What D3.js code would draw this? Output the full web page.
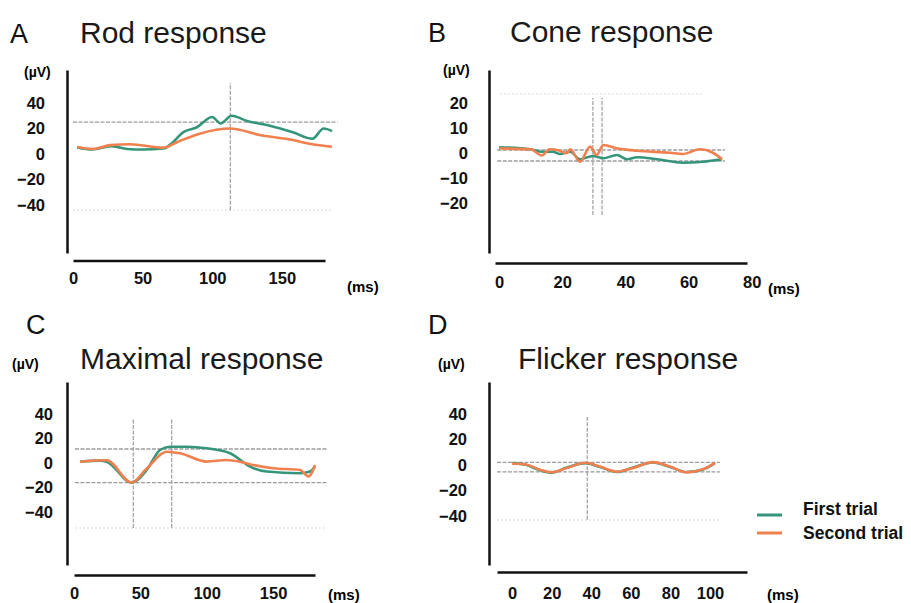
<!DOCTYPE html>
<html>
<head>
	<title> ERG responses </title>
	<script src="https://d3js.org/d3.v7.min.js"></script>
	<style>
		body { margin: 0; background: #fff; }
		text { font-family: "Liberation Sans", Arial, sans-serif; }
	</style>
</head>
<body>
	<svg width="911" height="603"></svg>
	<script type="text/javascript">
		// ---- data ----
		// A: rod response
		let rodTimeFirst = [3, 14, 27, 39, 50, 65, 72, 79, 89, 100, 106, 114, 125, 140, 158, 172, 180, 186];
		let rodFirst = [5.2, 3.6, 6.2, 4, 3.6, 4.4, 9.5, 17, 21, 29, 24, 30, 26, 22.5, 17, 12, 20, 18];
		let rodTimeSecond = [3, 14, 27, 41, 65, 75, 91, 113, 135, 158, 171, 186];
		let rodSecond = [5.5, 4, 7, 7.7, 5, 9.5, 16, 20, 14.7, 11, 7.8, 5.7];
		let rodHLines = [25];
		let rodVLines = [113];
		let rodTicksX = [0, 50, 100, 150];
		let rodTicksY = [40, 20, 0, -20, -40];

		// B: cone response
		let coneTimeFirst = [0, 10, 13.5, 17, 19.3, 22.5, 25.6, 29.7, 33, 37.3, 40.5, 43.7, 50, 58.2, 64.6, 70.6];
		let coneFirst = [2.3, 1.5, 0.5, 0.5, -0.4, 0.5, -2.5, -1.2, -2.1, -0.8, -2.5, -1.7, -2.5, -3.9, -3.5, -2.5];
		let coneTimeSecond = [0, 10, 13.5, 16, 19, 21.4, 22.5, 25.6, 28.8, 30.9, 33, 37.2, 43.6, 54.1, 58.2, 63.6, 67.7, 70.6];
		let coneSecond = [1.8, 1.5, -1, 1.5, 1, -0.1, 1.5, -3.5, 2.5, -0.8, 3.2, 1.9, 0.9, 0.1, -0.4, 1.5, 0.1, -2.5];
		let coneHLines = [1.2, -3.2];
		let coneVLines = [29.7, 32.6];
		let coneTicksX = [0, 20, 40, 60, 80];
		let coneTicksY = [20, 10, 0, -10, -20];

		// C: maximal response
		let maxTimeFirst = [4.5, 19.6, 24.6, 43.5, 54.8, 64.8, 72.3, 84.9, 100, 117.6, 132.7, 145.2, 170.3, 177.8, 181.6];
		let maxFirst = [1, 1.9, 1, -16, -5.7, 10.6, 13.3, 13.3, 12, 7.9, -3, -7, -8.4, -7, -3];
		let maxTimeSecond = [4.5, 24.6, 43.5, 54.8, 69.9, 79.9, 100, 115, 125, 134.9, 150, 170.3, 176.6, 181.6];
		let maxSecond = [1, 2.2, -16, -4.5, 9.2, 7.9, 1.1, 2.4, 1, -1.6, -4.3, -5.7, -11, -1.6];
		let maxHLines = [11.4, -16];
		let maxVLines = [44.7, 73.6];
		let maxTicksX = [0, 50, 100, 150];
		let maxTicksY = [40, 20, 0, -20, -40];

		// D: flicker response
		let flickTime = [0, 7.4, 14.1, 20, 27.6, 36.9, 44.4, 52.9, 61.1, 71.2, 79.8, 88.2, 96.5, 102.5];
		let flickFirst = [1.5, 0, -4, -6, -2, 1.5, -1.5, -5.5, -2, 2, -1.5, -5.5, -3.5, 1.5];
		let flickSecond = [1.2, 0.3, -3.6, -5.6, -2.4, 1.8, -1.2, -5.2, -2.3, 2.3, -1.2, -5.8, -3.2, 1.8];
		let flickHLines = [2.1, -5.3];
		let flickVLines = [38];
		let flickTicksX = [0, 20, 40, 60, 80, 100];
		let flickTicksY = [40, 20, 0, -20, -40];

		let seriesNames = ["First trial", "Second trial"];
		let colorSet = ["#35957a", "#f0814f"];

		// ---- layout ----
		let svg = d3.select("svg");
		let panels = [
			{ letter: "A", title: "Rod response", lx: 10, ly: 43, tx: 80, ty: 43,
			  uvx: 24, uvy: 77, xDom: [0, 181], xRng: [73, 325], yDom: [-77.6, 65.9], yRng: [253, 70],
			  axX: 67, axY: 260.5, padY: 22, padX: 12, msx: 347, msy: 292,
			  t1: rodTimeFirst, v1: rodFirst, t2: rodTimeSecond, v2: rodSecond,
			  hl: rodHLines, hlExt: [0, 190], vl: rodVLines, vlExt: [-44, 56], faint: [[-44, 0, 186]],
			  tx0: rodTicksX, ty0: rodTicksY },
			{ letter: "B", title: "Cone response", lx: 428, ly: 42, tx: 510, ty: 42,
			  uvx: 443, uvy: 75, xDom: [-1.3, 78.5], xRng: [495, 747], yDom: [-40, 33.2], yRng: [253, 70],
			  axX: 489, axY: 263, padY: 21, padX: 13, msx: 768, msy: 294,
			  t1: coneTimeFirst, v1: coneFirst, t2: coneTimeSecond, v2: coneSecond,
			  hl: coneHLines, hlExt: [-0.6, 71.5], vl: coneVLines, vlExt: [-24.8, 22], faint: [[23.6, 0.3, 65]],
			  tx0: coneTicksX, ty0: coneTicksY },
			{ letter: "C", title: "Maximal response", lx: 26, ly: 334, tx: 80, ty: 369,
			  uvx: 12, uvy: 369, xDom: [0, 181.6], xRng: [74, 315], yDom: [-83.3, 66.1], yRng: [565, 382],
			  axX: 67, axY: 575, padY: 14, padX: 12, msx: 328, msy: 600,
			  t1: maxTimeFirst, v1: maxFirst, t2: maxTimeSecond, v2: maxSecond,
			  hl: maxHLines, hlExt: [0.7, 190.6], vl: maxVLines, vlExt: [-53, 36.7], faint: [[-53, 0.7, 190]],
			  tx0: maxTicksX, ty0: maxTicksY },
			{ letter: "D", title: "Flicker response", lx: 428, ly: 334, tx: 518, ty: 369,
			  uvx: 438, uvy: 369, xDom: [-7.6, 118.7], xRng: [497, 747], yDom: [-78.7, 65.4], yRng: [565, 382],
			  axX: 489, axY: 572, padY: 22, padX: 15, msx: 767, msy: 600,
			  t1: flickTime, v1: flickFirst, t2: flickTime, v2: flickSecond,
			  hl: flickHLines, hlExt: [-7.6, 105], vl: flickVLines, vlExt: [-43, 37.8], faint: [[-43.3, -7.6, 105]],
			  tx0: flickTicksX, ty0: flickTicksY }
		];

		function draw_panel(p)
		{
			let x = d3.scaleLinear().domain(p.xDom).range(p.xRng);
			let y = d3.scaleLinear().domain(p.yDom).range(p.yRng);
			let g = svg.append("g");

			g.append("text").attr("x", p.lx).attr("y", p.ly).attr("font-size", 27).attr("fill", "#111").text(p.letter);
			g.append("text").attr("x", p.tx).attr("y", p.ty).attr("font-size", 30).attr("fill", "#1a1a1a").text(p.title);
			g.append("text").attr("x", p.uvx).attr("y", p.uvy).attr("font-size", 14).attr("font-weight", "bold").text("(µV)");
			g.append("text").attr("x", p.msx).attr("y", p.msy).attr("font-size", 15).attr("font-weight", "bold").text("(ms)");

			// faint dotted guides
			p.faint.forEach(function(f) {
				g.append("line").attr("x1", x(f[1])).attr("x2", x(f[2])).attr("y1", y(f[0])).attr("y2", y(f[0]))
					.attr("stroke", "#e6e6e6").attr("stroke-width", 1.5).attr("stroke-dasharray", "2,2");
			});
			// reference lines
			g.selectAll(".hl").data(p.hl).join("line")
				.attr("x1", x(p.hlExt[0])).attr("x2", x(p.hlExt[1]))
				.attr("y1", d => y(d)).attr("y2", d => y(d))
				.attr("stroke", "#9c9c9c").attr("stroke-width", 1.3).attr("stroke-dasharray", "4,1.5");
			g.selectAll(".vl").data(p.vl).join("line")
				.attr("x1", d => x(d)).attr("x2", d => x(d))
				.attr("y1", y(p.vlExt[0])).attr("y2", y(p.vlExt[1]))
				.attr("stroke", "#a4a4a4").attr("stroke-width", 1.3).attr("stroke-dasharray", "4,1.5");

			// axes
			let yAxis = d3.axisLeft(y).tickValues(p.ty0).tickSize(0).tickPadding(p.padY).tickSizeOuter(0);
			let ya = g.append("g").attr("transform", "translate(" + p.axX + ",0)").call(yAxis);
			let xAxis = d3.axisBottom(x).tickValues(p.tx0).tickSize(0).tickPadding(p.padX).tickSizeOuter(0);
			let xa = g.append("g").attr("transform", "translate(0," + p.axY + ")").call(xAxis);
			[ya, xa].forEach(function(a) {
				a.select(".domain").attr("stroke", "#111").attr("stroke-width", 2.5);
				a.selectAll("text").attr("font-size", 16.5).attr("font-weight", "bold").attr("fill", "#111")
					.style("font-family", "'Liberation Sans', Arial, sans-serif");
			});

			// traces
			let line = d3.line().x(d => x(d[0])).y(d => y(d[1])).curve(d3.curveMonotoneX);
			let traces = [d3.zip(p.t1, p.v1), d3.zip(p.t2, p.v2)];
			g.selectAll(".trace").data(traces).join("path")
				.attr("fill", "none")
				.attr("stroke", (d, i) => colorSet[i])
				.attr("stroke-width", 2.6)
				.attr("stroke-linejoin", "round")
				.attr("d", line);
		}
		panels.forEach(draw_panel);

		// legend
		let legend = svg.append("g");
		seriesNames.forEach(function(name, i) {
			legend.append("line").attr("x1", 757).attr("x2", 782).attr("y1", 515 + 18 * i).attr("y2", 515 + 18 * i)
				.attr("stroke", colorSet[i]).attr("stroke-width", 3);
			legend.append("text").attr("x", 803).attr("y", 515 + 24 * i).attr("font-size", 17.5).attr("font-weight", "bold")
				.attr("fill", "#111").text(name);
		});
	</script>
</body>
</html>
